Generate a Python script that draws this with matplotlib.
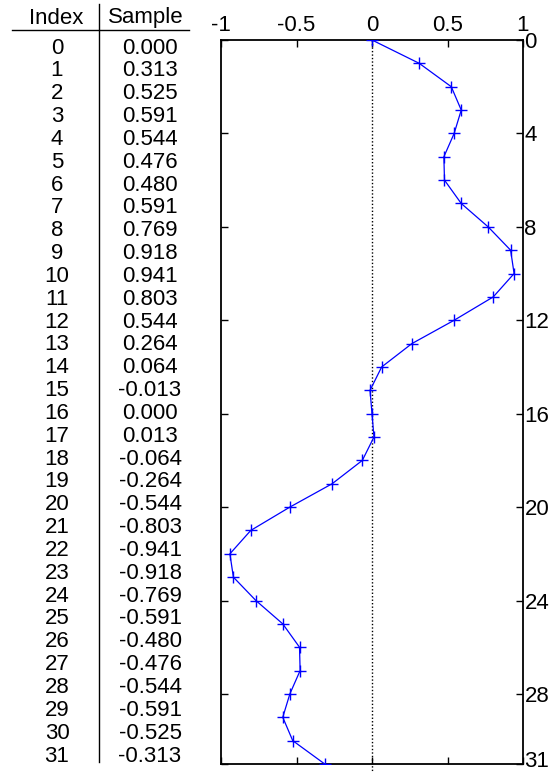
import numpy as np
import matplotlib
matplotlib.use('Agg')
import matplotlib.pyplot as plt
from matplotlib.transforms import ScaledTranslation

plt.rcParams['font.family'] = ['Liberation Sans', 'DejaVu Sans']

# table / series data
index = list(range(32))
samples = [0.000, 0.313, 0.525, 0.591, 0.544, 0.476, 0.480, 0.591,
           0.769, 0.918, 0.941, 0.803, 0.544, 0.264, 0.064, -0.013,
           0.000, 0.013, -0.064, -0.264, -0.544, -0.803, -0.941, -0.918,
           -0.769, -0.591, -0.480, -0.476, -0.544, -0.591, -0.525, -0.313]
x_ticks = [-1, -0.5, 0, 0.5, 1]
x_tick_labels = ['-1', '-0.5', '0', '0.5', '1']
y_ticks = [0, 4, 8, 12, 16, 20, 24, 28, 31]

W, H = 553, 772
FS = 16
fig = plt.figure(figsize=(W / 100, H / 100), dpi=100)

# table drawn in pixel coordinates
ax_t = fig.add_axes((0, 0, 1, 1))
ax_t.set_axis_off()
ax_t.set_xlim(0, W)
ax_t.set_ylim(H, 0)
ax_t.text(56, 18, 'Index', ha='center', va='center', fontsize=FS)
ax_t.text(146, 18, 'Sample', ha='center', va='center', fontsize=FS)
ax_t.plot([12, 189], [30, 30], color='k', lw=1)
ax_t.plot([99, 99], [4, 762], color='k', lw=1)
row0, dy = 48, 22.84
for i, s in zip(index, samples):
    y = row0 + i * dy
    ax_t.text(57, y, str(i), ha='center', va='center', fontsize=FS)
    ax_t.text(150, y, f'{s:.3f}', ha='center', va='center', fontsize=FS)

# plot
ax = fig.add_axes((221 / W, (H - 764) / H, 302 / W, 724 / H))
ax.plot([0, 0], [0, 31.4], color='k', lw=1, ls=(0, (1, 1.5)), clip_on=False, zorder=1)
ax.plot(samples, index, color='#0000ff', lw=0.9, marker='+', ms=8, mew=1, zorder=3)
ax.set_xlim(-1, 1)
ax.set_ylim(31, 0)
ax.set_xticks(x_ticks)
ax.set_xticklabels(x_tick_labels)
ax.set_yticks(y_ticks)
ax.tick_params(axis='x', direction='in', top=True, bottom=True, labeltop=True,
               labelbottom=False, length=5, width=1, labelsize=FS, pad=3)
ax.tick_params(axis='y', direction='in', left=True, right=True, labelright=True,
               labelleft=False, length=5, width=1, labelsize=FS, pad=1)
for sp in ax.spines.values():
    sp.set_linewidth(1.3)

# nudge the last right label up so it stays inside the image
t = ax.yaxis.get_major_ticks()[-1]
t.label2.set_transform(t.label2.get_transform() + ScaledTranslation(0, 5 / 100, fig.dpi_scale_trans))

fig.savefig('out.png', dpi=100)
